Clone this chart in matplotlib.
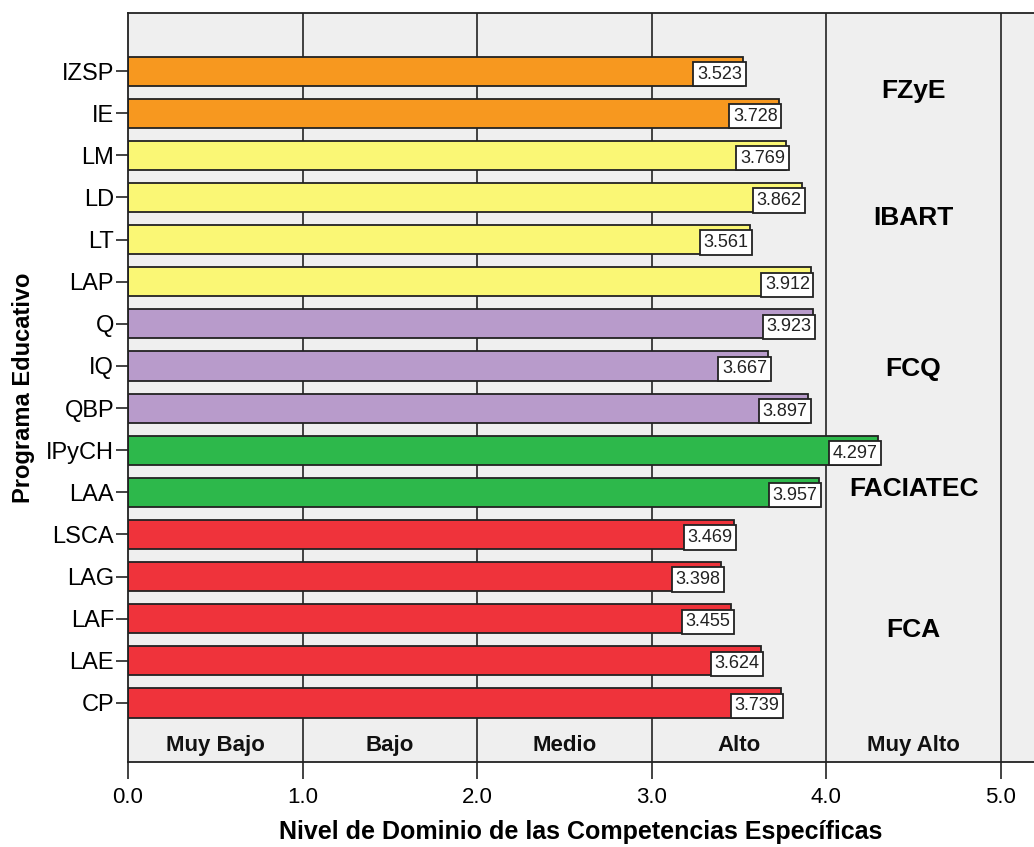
import matplotlib
matplotlib.use("Agg")
import matplotlib.pyplot as plt
import numpy as np

plt.rcParams['font.family'] = ['Liberation Sans', 'DejaVu Sans']

# programas, de arriba hacia abajo
programas = ['IZSP', 'IE', 'LM', 'LD', 'LT', 'LAP', 'Q', 'IQ', 'QBP',
             'IPyCH', 'LAA', 'LSCA', 'LAG', 'LAF', 'LAE', 'CP']
valores = [3.523, 3.728, 3.769, 3.862, 3.561, 3.912, 3.923, 3.667, 3.897,
           4.297, 3.957, 3.469, 3.398, 3.455, 3.624, 3.739]
facultad = ['FZyE', 'FZyE', 'IBART', 'IBART', 'IBART', 'IBART', 'FCQ', 'FCQ', 'FCQ',
            'FACIATEC', 'FACIATEC', 'FCA', 'FCA', 'FCA', 'FCA', 'FCA']
colores = {'FZyE': '#f7981f', 'IBART': '#faf775', 'FCQ': '#b89bcb',
           'FACIATEC': '#2db84b', 'FCA': '#ef333b'}
# etiqueta de facultad -> posicion (en indice de programa, desde arriba)
grupos = [('FZyE', 0.48), ('IBART', 3.48), ('FCQ', 7.08), ('FACIATEC', 9.92), ('FCA', 13.27)]
niveles = ['Muy Bajo', 'Bajo', 'Medio', 'Alto', 'Muy Alto']

fig = plt.figure(figsize=(10.34, 8.47), dpi=100)
ax = fig.add_axes([0.1238, 0.1004, 0.8762, 0.8843])
ax.set_facecolor('#efefef')

n = len(programas)
y = np.arange(n)[::-1]  # IZSP arriba

for xv in range(1, 6):
    ax.axvline(xv, color='#333333', lw=1.3, zorder=1)

ax.barh(y, valores, height=0.69, color=[colores[f] for f in facultad],
        edgecolor='#222222', linewidth=1.3, zorder=2)

for yi, v in zip(y, valores):
    ax.text(v - 0.006, yi - 0.07, '%.3f' % v, ha='right', va='center', fontsize=13,
            color='#222222', zorder=4,
            bbox=dict(boxstyle='square,pad=0.2', facecolor='white',
                      edgecolor='#222222', linewidth=1.3))

for nombre, pos in grupos:
    ax.text(4.5, n - 1 - pos, nombre, ha='center', va='center',
            fontsize=19, fontweight='bold', zorder=4)

for i, nv in enumerate(niveles):
    ax.text(i + 0.5, -1.0, nv, ha='center', va='center', fontsize=16,
            fontweight='bold', color='#111111', zorder=4)

ax.set_xlim(0, 5.19)
ax.set_ylim(-1.4, n - 1 + 1.38)
ax.set_xticks([0, 1, 2, 3, 4, 5])
ax.set_xticklabels(['0.0', '1.0', '2.0', '3.0', '4.0', '5.0'], fontsize=16)
ax.set_yticks(y)
ax.set_yticklabels(programas, fontsize=17)
ax.tick_params(axis='x', length=12, width=1.2, color='#222222', pad=6)
ax.tick_params(axis='y', length=9, width=1.2, color='#222222', pad=1)

for s in ['left', 'top', 'bottom']:
    ax.spines[s].set_color('#222222')
    ax.spines[s].set_linewidth(1.3)
ax.spines['right'].set_visible(False)

ax.set_xlabel('Nivel de Dominio de las Competencias Específicas', fontsize=18,
              fontweight='bold', labelpad=9)
ax.set_ylabel('Programa Educativo', fontsize=17, fontweight='bold', labelpad=8)

fig.savefig('out.png', dpi=100)
